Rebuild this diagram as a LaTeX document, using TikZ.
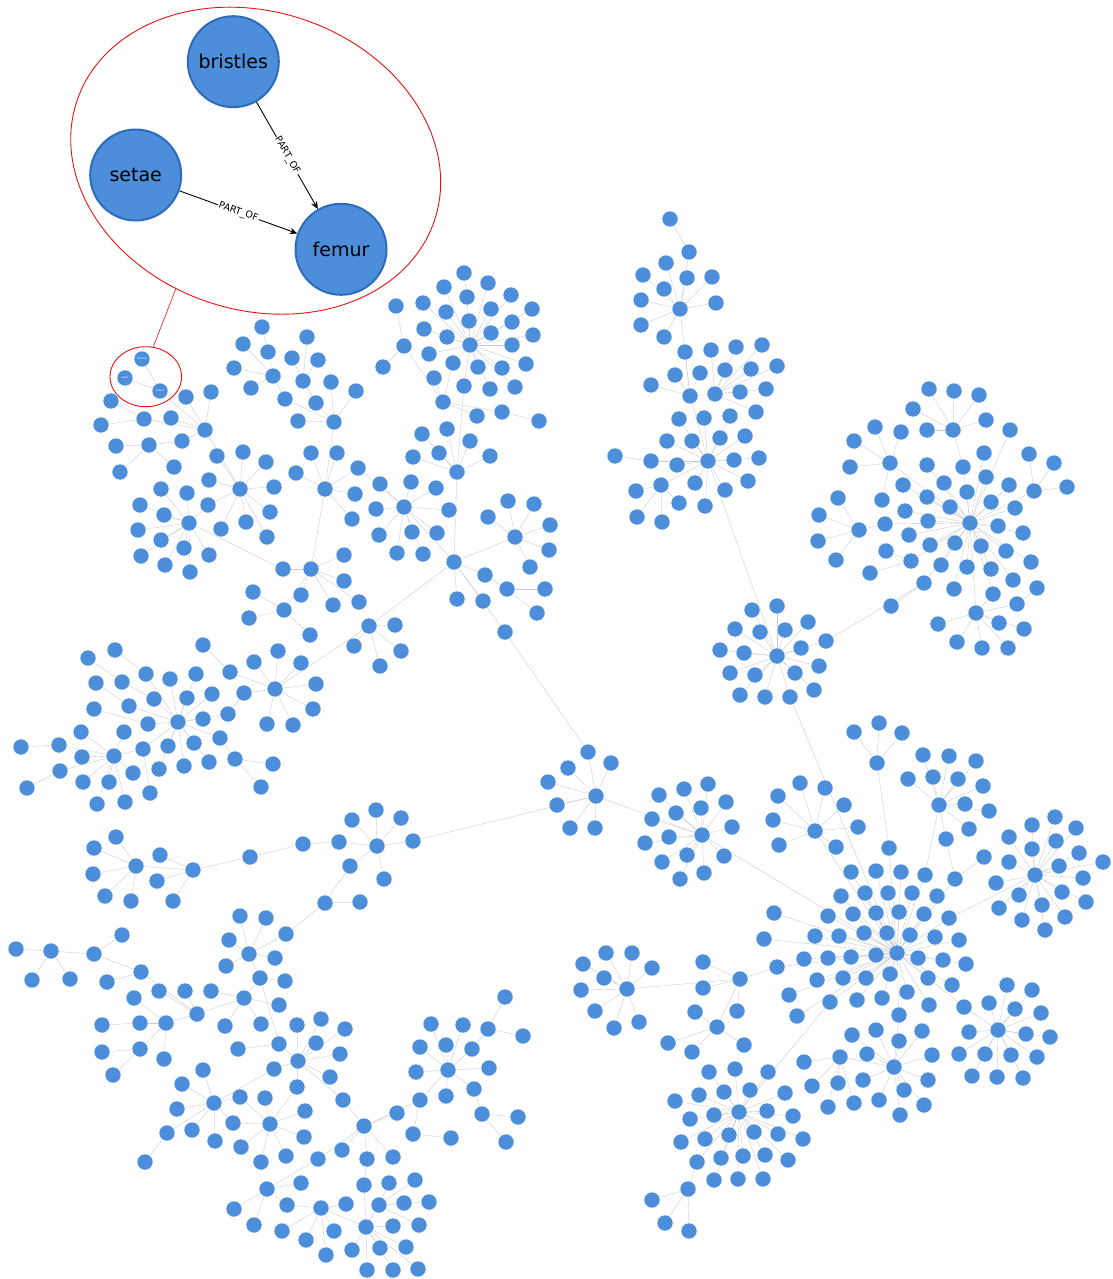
\documentclass[tikz,border=0pt]{standalone}
\usepackage{fontspec}
\setmainfont{DejaVu Sans}
\usetikzlibrary{arrows.meta,backgrounds}
\definecolor{nodeblue}{RGB}{76,142,218}
\definecolor{nodeedge}{RGB}{44,108,186}
\definecolor{edgegray}{RGB}{200,200,200}
\definecolor{hl}{RGB}{232,18,18}
\tikzset{
  sn/.style={circle, fill=nodeblue, draw=white, line width=0.4pt, minimum size=16pt, inner sep=0pt},
  snl/.style={sn, text=white, font=\fontsize{2.6}{3}\selectfont},
  ed/.style={draw=edgegray, line width=0.35pt},
  bign/.style={circle, fill=nodeblue, draw=nodeedge, line width=2pt, minimum size=91pt, inner sep=0pt, font=\fontsize{19}{22}\selectfont},
  rel/.style={draw=black, line width=0.9pt, -{Stealth[length=7.5pt,width=6.5pt]}},
  rellab/.style={sloped, fill=white, inner sep=1pt, font=\fontsize{9.5}{11}\selectfont},
  hlline/.style={draw=hl, line width=0.9pt}
}
\begin{document}
\begin{tikzpicture}[x=1pt,y=-1pt]
\useasboundingbox (0,0) rectangle (1112,1279);

% ---------- inset ----------
\coordinate (E1) at (255.7,160.7);
\draw[hlline, rotate around={-18.4:(E1)}] (E1) ellipse [x radius=188.5pt, y radius=149.1pt];
\coordinate (E2) at (145.8,376.7);
\draw[hlline] (E2) ellipse [x radius=35.8pt, y radius=30pt];
\coordinate (rA) at (153.3,346.7);
\coordinate (rB) at (175.7,289.3);
\draw[hlline, line width=0.6pt] (rA) -- (rB);

\node[bign] (bristles) at (233.3,61.7) {bristles};
\node[bign] (setae) at (135.7,175) {setae};
\node[bign] (femur) at (341,249.3) {femur};
\draw[rel] (bristles) -- node[rellab] {PART\_OF} (femur);
\draw[rel] (setae) -- node[rellab] {PART\_OF} (femur);

% ---------- small nodes ----------
\node[snl] (rb) at (142,359) {bristles};
\node[snl] (rs) at (125,378) {setae};
\node[snl] (rf) at (160,391) {femur};

\foreach \n/\x/\y in {
t1/262/327, t2/307/337, t3/243/344, t4/268/352, t5/292/358, t6/318/360, t7/234/368, t8/273/376, t9/303/381, t10/331/382,
t11/356/391, t12/251/388, t13/285/399, t14/316/403, t15/298/421, t16/334/422, t17/186/397, t18/211/392, t19/111/401, t20/144/419,
t21/171/418, t22/101/425, t23/205/430, t24/116/446, t25/149/445, t26/182/441, t27/120/472, t28/174/467, t29/217/456, t30/243/452,
t31/266/462, t32/296/473, t33/311/453, t34/337/453, t35/358/468, t36/355/494, t38/325/489, t39/352/519, t40/209/480,
t41/240/489, t42/274/487, t43/161/489, t44/187/493, t45/140/505, t46/164/515, t47/208/505, t48/270/512, t49/246/522, t50/189/523,
t51/138/530, t52/161/540, t53/184/548, t54/221/529, t55/267/537, t56/141/556, t57/165/565, t58/190/572, t59/209/555, t60/283/569,
t61/311/569, t62/344/555, t63/344/581, t64/253/592, t65/301/595, t66/333/605, t67/359/602, t68/284/610, t69/249/618,
u0/470/345, u1/464/273, u2/488/283, u3/444/287, u4/511/295, u5/467/297, u6/396/306, u7/423/303, u8/491/309, u9/532/309,
u10/446/312, u11/469/321, u12/512/322, u13/424/329, u14/491/333, u15/447/337, u16/533/335, u17/404/346, u18/512/345, u19/429/354,
u20/453/363, u21/478/367, u22/502/368, u23/526/364, u24/383/367, u25/434/378, u26/464/386, u27/490/389, u28/515/387, u29/443/402,
u30/477/416, u31/502/412, u32/539/421,
v0/457/472, v1/422/434, v2/447/429, v3/470/441, v4/439/453, v5/490/456, v6/413/457, v7/380/484, v8/411/482, v9/436/488,
v10/404/507, v11/376/509, v12/449/510, v13/379/535, v14/412/532, v15/437/533, v16/397/553, v17/423/554, v18/508/501, v19/534/504,
v20/488/517, v21/550/525, v22/515/537, v23/549/550, v24/454/562, v25/530/567, v26/485/575, v27/507/589, v28/545/589, v29/457/599,
v30/483/601, v31/537/613, v32/505/632,
w1/369/626, w2/395/625, w3/354/646, w4/401/651, w5/380/666,
x0/275/689, x1/310/635, x2/203/645, x3/115/650, x4/88/658, x5/278/651, x6/254/662, x7/301/663, x8/230/672, x9/146/674,
x10/170/679, x11/196/674, x12/96/683, x13/122/682, x14/316/684, x15/244/693, x16/154/699, x17/187/698, x18/212/694, x19/129/706,
x20/94/709, x21/228/714, x22/313/709, x23/178/722, x24/203/719, x25/148/724, x26/267/724, x27/293/725, x28/81/732, x29/124/732,
x30/220/738, x31/194/743, x32/21/747, x33/59/745, x34/143/749, x35/168/746, x36/114/756, x37/82/757, x38/235/759, x39/60/771,
x40/159/769, x41/184/766, x42/209/762, x43/273/764, x44/133/773, x45/83/782, x46/109/782, x47/27/788, x48/261/787, x49/150/793,
x50/97/804, x51/125/802,
y0/377/846, y1/376/810, y2/352/820, y3/401/818, y4/303/844, y5/339/842, y6/413/841, y7/350/866, y8/384/879, y9/116/837,
y10/94/848, y11/136/866, y12/160/855, y13/250/857, y14/193/870, y15/93/874, y16/157/881, y17/105/896, y18/131/901, y19/173/901,
y20/325/903, y21/360/902,
z1/16/949, z2/51/951, z3/32/980, z4/70/979, z5/94/954, z6/122/935, z7/141/972, z8/107/982, z9/240/916, z10/266/918,
z11/286/934, z12/229/940, z13/249/954, z14/275/958, z15/226/966, z16/260/978, z17/285/981, z18/211/991, z19/244/998, z20/279/1005,
z21/159/991, z22/185/991, z23/134/998, z24/197/1014, z25/102/1025, z26/140/1023, z27/166/1023, z28/225/1026, z29/261/1024, z30/102/1052,
z31/140/1049, z32/164/1059, z33/113/1075, z34/238/1049, z35/279/1044, z36/297/1025, z37/321/1019, z38/345/1029, z39/316/1043, z40/298/1061,
z41/340/1054, z42/274/1069, z43/297/1087, z44/330/1077, z45/343/1100, z46/203/1070, z47/182/1084, z48/214/1103, z49/177/1109, z50/240/1097,
z51/265/1098, z52/270/1124, z53/305/1111, z54/233/1123, z55/192/1130, z56/167/1133, z57/215/1141, z58/241/1147, z59/304/1137, z60/261/1162,
z61/286/1156, z62/145/1162,
q0/364/1126, q1/397/1113, q2/342/1150, q3/367/1159, q4/393/1157, q5/413/1134, q6/451/1138, q7/318/1159, q8/420/1100, q9/446/1096,
q10/448/1070, q11/431/1024, q12/463/1025, q13/420/1047, q14/446/1045, q15/472/1049, q16/416/1072, q17/489/1068, q18/474/1089, q19/482/1114,
q20/518/1117, q21/506/1142, q22/488/1029, q23/505/997, q24/523/1036,
r0/267/1189, r1/301/1183, r2/287/1205, r3/234/1209, r4/254/1225, r5/364/1185, r6/389/1183, r7/415/1180, r8/379/1205, r9/404/1203,
r10/429/1202, r11/346/1204, r12/321/1208, r13/366/1227, r14/393/1226, r15/419/1225, r16/334/1231, r17/282/1231, r18/306/1240, r19/352/1250,
r20/380/1248, r21/406/1247, r22/326/1255, r23/367/1270, r24/393/1270, r25/418/1269} {\node[sn] (\n) at (\x,\y) {};}

\foreach \n/\x/\y in {
p0/680/309, p1/670/219, p2/689/252, p3/666/263, p4/643/275, p5/687/278, p6/712/277, p7/664/289, p8/641/300, p9/716/303,
p10/641/325, p11/664/337, p12/685/352, p13/711/350, p14/736/347, p15/762/345, p16/777/366, p17/751/369, p18/725/370, p19/700/373,
p20/675/375, p21/651/385, p22/690/396, p23/715/394, p24/740/392, p25/766/389, p26/756/412, p27/679/419, p28/704/418, p29/730/416,
p30/667/441, p31/692/441, p32/720/438, p33/745/436, p34/615/456, p35/651/461, p36/677/465, p37/708/461, p38/734/460, p39/759/458,
p40/661/485, p41/695/483, p42/725/490, p43/748/481, p44/636/491, p45/679/503, p46/705/506, p47/637/517, p48/662/522,
g0/777/656, g1/752/610, g2/777/606, g3/808/622, g4/735/629, g5/760/632, g6/785/630, g7/826/641, g8/720/650, g9/744/653,
g10/801/648, g11/819/666, g12/730/673, g13/755/675, g14/795/673, g15/814/690, g16/740/695, g17/765/697, g18/790/697,
k0/970/523, k1/929/389, k2/954/391, k3/979/395, k4/913/409, k5/986/420, k6/875/427, k7/927/430, k8/953/430, k9/1010/430,
k10/901/432, k11/854/441, k12/984/453, k13/1029/454, k14/1054/463, k15/850/467, k16/890/463, k17/927/465, k18/963/467, k19/986/477,
k20/944/483, k21/903/485, k22/1009/485, k23/1034/491, k24/1067/487, k25/967/492, k26/927/497, k27/882/500, k28/838/498, k29/950/507,
k30/991/502, k31/905/511, k32/1015/508, k33/819/515, k34/928/521, k35/885/524, k36/998/526, k37/859/530, k38/1023/533, k39/909/535,
k40/930/545, k41/955/543, k42/981/546, k43/818/541, k44/1006/551, k45/886/551, k46/836/560, k47/911/561, k48/941/565, k49/967/567,
k50/991/569, k51/1031/562, k52/870/573, k53/1013/580, k54/924/583, k55/954/589, k56/1037/588, k57/993/594, k58/891/606, k59/1017/604,
k60/976/613, k61/999/623, k62/938/624, k63/1024/629, k64/957/642, k65/982/648, k66/1008/648,
c0/596/796, c1/588/752, c2/611/763, c3/568/768, c4/548/782, c5/557/805, c6/570/828, c7/595/828,
h0/702/835, h1/659/795, h2/684/789, h3/708/784, h4/726/802, h5/676/813, h6/701/808, h7/652/819, h8/669/837, h9/732/827,
h10/645/843, h11/687/855, h12/724/856, h13/662/862, h14/704/873, h15/680/879,
i0/815/831, i1/800/783, i2/825/788, i3/778/796, i4/844/805, i5/773/820, i6/779/845, i7/836/847, i8/858/827,
j0/877/763, j1/854/732, j2/879/723, j3/902/733,
l0/939/805, l1/923/755, l2/949/756, l3/976/761, l4/908/779, l5/933/777, l6/958/779, l7/983/786, l8/965/804, l9/989/811,
l10/969/829, l11/946/839, l12/955/879, l13/984/857,
m0/1035/875, m1/1055/817, m2/1032/825, m3/1076/828, m4/1009/837, m5/1056/841, m6/1032/849, m7/1079/853, m8/1009/862, m9/1059/866,
m10/1103/862, m11/996/883, m12/1083/878, m13/1019/895, m14/1062/892, m15/999/908, m16/1042/905, m17/1086/902, m18/1022/920, m19/1065/917,
m20/1045/930,
b0/897/953, b1/851/872, b2/876/871, b3/901/872, b4/925/875, b5/841/896, b6/865/893, b7/888/893, b8/912/893, b9/937/896,
b10/949/918, b11/774/913, b12/828/916, b13/853/914, b14/876/913, b15/899/912, b16/924/914, b17/764/939, b18/815/936, b19/839/936,
b20/864/933, b21/887/933, b22/910/935, b23/935/937, b24/959/940, b25/804/959, b26/828/958, b27/851/957, b28/876/955, b29/918/958,
b30/943/960, b31/966/964, b32/777/967, b33/817/980, b34/843/978, b35/866/978, b36/890/974, b37/928/978, b38/952/985, b39/789/995,
b40/830/1002, b41/857/1000, b42/882/998, b43/907/992, b44/929/1005, b45/964/1007, b46/899/1015, b47/797/1016, b48/889/848,
n0/627/989, n1/606/953, n2/632/953, n3/583/964, n4/652/968, n5/604/978, n6/581/990, n7/595/1011, n8/614/1028, n9/639/1022,
o0/740/979, o1/703/962, o2/703/988, o3/737/1011, o4/695/1012, o5/717/1027, o6/668/1043, o7/692/1052, o8/744/1045,
s0/894/1067, s1/852/1035, s2/876/1030, s3/899/1041, s4/922/1031, s5/867/1054, s6/932/1055, s7/863/1080, s8/928/1080, s9/904/1090,
s10/879/1100, s11/924/1105, s12/900/1115, s13/840/1057, s14/804/1062, s15/812/1086, s16/838/1083, s17/828/1107, s18/854/1103,
e0/998/1030, e1/1007/985, e2/1032/990, e3/989/1003, e4/1015/1009, e5/1041/1013, e6/969/1032, e7/1026/1034, e8/1050/1037, e9/959/1054,
e10/985/1054, e11/1011/1055, e12/1037/1057, e13/972/1076, e14/997/1077, e15/1023/1078,
f0/739/1112, f1/709/1072, f2/735/1069, f3/768/1072, f4/724/1092, f5/750/1090, f6/785/1093, f7/675/1101, f8/699/1095, f9/714/1115,
f10/767/1111, f11/793/1116, f12/690/1119, f13/729/1135, f14/754/1132, f15/778/1134, f16/803/1139, f17/681/1142, f18/705/1139, f19/721/1158,
f20/743/1156, f21/765/1155, f22/788/1160, f23/697/1162, f24/714/1180, f25/738/1179, f26/763/1179, f27/688/1189, f28/652/1200, f29/665/1223,
f30/689/1231} {\node[sn] (\n) at (\x,\y) {};}

% ---------- connectors ----------
\begin{scope}[on background layer]
\foreach \a/\b in {
rb/rf, rs/rf, rf/t23, t17/t23, t18/t23, t21/t23, t20/t23, t19/t20, t22/t20, t26/t23, t25/t26, t24/t25, t27/t25, t28/t25, t23/t41,
t29/t41, t30/t41, t31/t41, t40/t41, t42/t41, t47/t41, t54/t41, t49/t41, t48/t41, t55/t41, t50/t47,
t50/t43, t50/t44, t50/t46, t50/t45, t50/t51, t50/t52, t50/t53, t50/t56, t50/t57, t50/t58, t50/t59, t50/t60,
t8/t3, t8/t4, t8/t7, t8/t12, t8/t13, t1/t4, t9/t5, t9/t6, t9/t2, t9/t14, t13/t16, t14/t16, t15/t16, t10/t16, t11/t16, t16/t38,
t38/t33, t38/t34, t38/t32, t38/t35, t38/t36, t38/t39, t38/t61, t61/t62, t61/t63, t61/t65, t61/t66, t61/t67, t61/t60, t61/t68,
t68/t64, t68/t69, t68/x1,
u0/u2, u0/u3, u0/u4, u0/u5, u0/u8, u0/u9, u0/u10, u0/u11, u0/u12, u0/u14, u0/u15, u0/u16, u0/u18, u0/u19, u0/u20, u0/u21,
u0/u22, u0/u23, u0/u26, u0/u27, u0/u28, u0/u7, u0/u13, u1/u5, u17/u6, u17/u24, u17/u29, u29/u25, u29/u20, u29/u30, u29/u31,
u31/u32, u26/v0,
v0/v1, v0/v2, v0/v3, v0/v4, v0/v5, v0/v6, v0/v24, v10/v7, v10/v8, v10/v9, v10/v11, v10/v12, v10/v13, v10/v14, v10/v15, v10/v16,
v10/v17, v10/v24, t35/v10, v22/v18, v22/v19, v22/v20, v22/v21, v22/v23, v22/v25, v22/v24, v24/v26, v24/v29, v24/v30, v24/v32,
v26/v27, v27/v28, v27/v31, w1/v24, v32/c1,
w1/w2, w1/w3, w1/w4, w1/w5, w1/x0,
x23/x9, x23/x10, x23/x11, x23/x16, x23/x17, x23/x18, x23/x24, x23/x25, x23/x30, x23/x31, x23/x35, x23/x41, x23/x42, x23/x34,
x23/x21, x23/x19, x12/x19, x3/x9, x4/x13, x13/x16, x20/x25, x36/x28, x36/x29, x36/x33, x36/x37, x36/x39, x36/x44, x36/x45,
x36/x46, x36/x51, x36/x50, x33/x32, x39/x47, x34/x36, x40/x23, x34/x49, x0/x5, x0/x6, x0/x7, x0/x14, x0/x22, x0/x26, x0/x27,
x0/x15, x8/x2, x8/x0, x21/x15, x30/x38, x38/x43, x38/x48,
y0/y1, y0/y2, y0/y3, y0/y5, y0/y6, y0/y7, y0/y8, y5/y4, y13/y4, y13/y14, y14/y12, y14/y16, y14/y19, y11/y9, y11/y10, y11/y15,
y11/y17, y11/y18, y11/y14, y6/c0, y7/y20, y20/y21, z11/y20,
z2/z1, z2/z3, z2/z4, z2/z5, z5/z6, z5/z7, z7/z8, z7/z24, z24/z21, z24/z22, z24/z27, z24/z19, z27/z23, z27/z26, z27/z31, z27/z32,
z26/z25, z31/z30, z31/z33, z19/z18, z19/z28, z19/z29, z19/z20, z19/z16, z16/z17, z16/z13, z16/z35, z13/z9, z13/z10, z13/z11,
z13/z12, z13/z14, z13/z15, z35/z34, z35/z40, z40/z36, z40/z37, z40/z39, z40/z38, z40/z41, z40/z44, z40/z45, z40/z42, z40/z43,
z42/z48, z48/z46, z48/z47, z48/z49, z48/z55, z48/z56, z48/z57, z48/z50, z48/z54, z56/z62, z52/z51, z52/z43, z52/z53, z52/z54,
z52/z58, z52/z60, z52/z61, z52/z59, z52/z50,
q0/q1, q0/q3, q0/q4, q0/q2, q0/z45, q0/q7, q0/q8, q10/q8, q10/q9, q10/q11, q10/q12, q10/q13, q10/q14, q10/q15, q10/q16, q10/q17,
q10/q18, q5/q8, q5/q6, q15/q22, q22/q23, q22/q24, q18/q19, q19/q20, q19/q21,
r0/r1, r0/r2, r0/r3, r0/r4, r0/q7, r12/r2, r12/r11, r12/r17, r12/r18, r12/r22, r12/r16, r12/r13, r13/r14, r13/r19, r13/r20,
r13/r23, r13/r24, r13/r21, r13/r25, r13/r8, r13/r5, r8/r6, r8/r7, r8/r9, r8/r10, r8/r15, r5/q3,
p1/p2, p2/p0, p0/p22, p22/p12, p22/p19, p22/p20, p22/p21, p22/p23, p23/p13, p23/p14, p23/p15, p23/p16, p23/p17, p23/p18,
p23/p24, p23/p25, p23/p26, p22/p37, p35/p34, p40/p44, p40/p45, p40/p47, p40/p48, p37/g0, g18/b0, g7/k54,
k8/k1, k8/k2, k8/k3, k8/k4, k8/k5, k8/k7, k8/k18, k16/k6, k16/k10, k16/k11, k16/k15, k16/k27, k16/k0, k23/k13, k23/k14, k23/k24,
k23/k0, k37/k28, k37/k33, k37/k43, k37/k46, k37/k35, k9/k0, k59/k56, k54/k58, k45/k47, k52/k47, k0/k60,
c0/h0, h0/b0, i0/b0, j0/b48, b48/b0, l11/l12, l13/l12, l12/b0, l0/b4, m0/b10, n0/o0,
o0/o1, o0/o2, o0/o3, o0/o5, o5/o4, o5/o6, o5/o7, o5/o8, o0/b32, s0/b46, s13/s0, e0/b45, f27/f28, f27/f29, f27/f30, f27/f23, f0/b40} {\draw[ed] (\a) -- (\b);}
\foreach \i in {3,...,11} {\draw[ed] (p0) -- (p\i);}
\foreach \i in {27,28,29,30,31,32,33,35,36,38,39,40,41,42,43,46} {\draw[ed] (p37) -- (p\i);}
\foreach \i in {1,...,18} {\draw[ed] (g0) -- (g\i);}
\foreach \i in {12,17,18,19,20,21,22,25,26,29,30,31,32,34,35,36,38,39,40,41,42,44,47,48,49,50,51,53,54,55,57} {\draw[ed] (k0) -- (k\i);}
\foreach \i in {57,59,61,62,63,64,65,66} {\draw[ed] (k60) -- (k\i);}
\foreach \i in {1,...,7} {\draw[ed] (c0) -- (c\i);}
\foreach \i in {1,...,15} {\draw[ed] (h0) -- (h\i);}
\foreach \i in {1,...,8} {\draw[ed] (i0) -- (i\i);}
\foreach \i in {1,2,3} {\draw[ed] (j0) -- (j\i);}
\foreach \i in {1,...,11} {\draw[ed] (l0) -- (l\i);}
\foreach \i in {1,...,20} {\draw[ed] (m0) -- (m\i);}
\foreach \i in {1,...,47} {\draw[ed] (b0) -- (b\i);}
\foreach \i in {1,...,9} {\draw[ed] (n0) -- (n\i);}
\foreach \i in {1,...,12} {\draw[ed] (s0) -- (s\i);}
\foreach \i in {14,...,18} {\draw[ed] (s13) -- (s\i);}
\foreach \i in {1,...,15} {\draw[ed] (e0) -- (e\i);}
\foreach \i in {1,...,26} {\draw[ed] (f0) -- (f\i);}
\end{scope}
\end{tikzpicture}
\end{document}
